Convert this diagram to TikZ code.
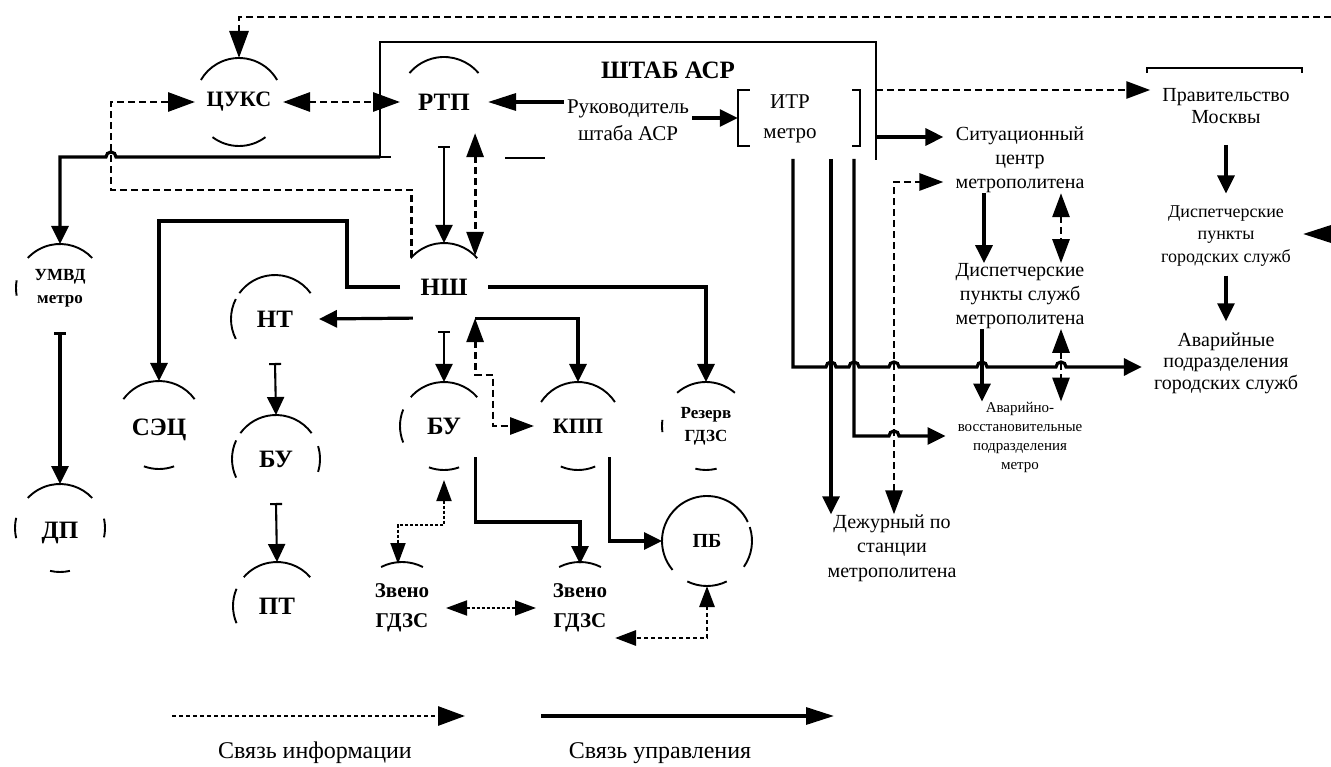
\documentclass[tikz,border=0pt]{standalone}
\usepackage{fontspec}
\setmainfont{Liberation Serif}
\usetikzlibrary{arrows.meta}
\newcommand\fsz[2]{\fontsize{#1}{#2}\selectfont}
\newcommand\nodearc[4]{\draw[arcl] (#1.center) ++(#2:#4) arc[start angle=#2,end angle=#3,radius=#4];}
\tikzset{
  Sa/.tip={Triangle[length=18pt,width=17pt]},
  Sl/.tip={Triangle[length=28pt,width=17pt]},
  Da/.tip={Triangle[length=24pt,width=17pt]},
  Dl/.tip={Triangle[length=27pt,width=19pt]},
  Fa/.tip={Triangle[length=21pt,width=15pt]},
  Bk/.tip={Bar[width=12pt]},
}
\begin{document}
\begin{tikzpicture}[x=1pt,y=1pt,
  circ/.style={circle,minimum size=88pt,inner sep=0pt,outer sep=0pt,align=center},
  big/.style={font=\bfseries\fsz{25}{28}},
  txt/.style={align=center,inner xsep=12pt,inner ysep=0pt},
  arcl/.style={line width=1.9pt},
  ctl/.style={line width=3.2pt},
  thn/.style={line width=2.1pt},
  frm/.style={line width=2.3pt},
  inf/.style={line width=2.9pt,dash pattern=on 7pt off 4pt},
  inff/.style={line width=1.9pt,dash pattern=on 3pt off 2pt},
]
\useasboundingbox (0,0) rectangle (1331,-767);

% circle nodes
\node[circ,font=\bfseries\fsz{22}{26}] (cuks) at (239,-102) {ЦУКС};
\node[circ,big] (rtp) at (444,-102) {РТП};
\node[circ,big] (nsh) at (444,-287) {НШ};
\node[circ,font=\bfseries\fsz{17}{23}] (umvd) at (60,-288) {УМВД\\метро};
\node[circ,big] (dp) at (60,-528) {\raisebox{-10pt}[0pt][0pt]{ДП}};
\node[circ,big] (sec) at (159,-425) {\raisebox{-10pt}[0pt][0pt]{СЭЦ}};
\node[circ,big] (nt) at (275,-319) {НТ};
\node[circ,big] (bul) at (276,-459) {БУ};
\node[circ,big] (ptn) at (277,-606) {ПТ};
\node[circ,big] (buc) at (444,-426) {БУ};
\node[circ,font=\bfseries\fsz{22}{26}] (kpp) at (578,-426) {КПП};
\node[circ,font=\bfseries\fsz{17}{23}] (rez) at (706,-426) {Резерв\\ГДЗС};
\node[circ,font=\bfseries\fsz{21}{30}] (zva) at (402,-608) {Звено\\ГДЗС};
\node[circ,font=\bfseries\fsz{21}{30}] (zvb) at (580,-608) {Звено\\ГДЗС};
\node[circ,font=\bfseries\fsz{20}{24},minimum size=90pt] (pb) at (707,-541) {ПБ};

% arcs of the circles
\nodearc{cuks}{30}{150}{44} \nodearc{cuks}{233}{307}{44}
\nodearc{rtp}{40}{140}{45}
\nodearc{nsh}{41}{139}{44}
\nodearc{umvd}{43}{137}{44} \nodearc{umvd}{170}{190}{44}
\nodearc{dp}{43}{137}{44} \nodearc{dp}{167}{193}{45} \nodearc{dp}{-12}{12}{45} \nodearc{dp}{257}{283}{44}
\nodearc{sec}{36}{144}{44} \nodearc{sec}{250}{290}{44}
\nodearc{nt}{36}{144}{44} \nodearc{nt}{153}{207}{44}
\nodearc{bul}{36}{144}{44} \nodearc{bul}{155}{205}{44} \nodearc{bul}{-17}{17}{44}
\nodearc{ptn}{41}{139}{44} \nodearc{ptn}{157}{203}{44}
\nodearc{buc}{41}{139}{44} \nodearc{buc}{158}{202}{44} \nodearc{buc}{250}{290}{44}
\nodearc{kpp}{33}{147}{44} \nodearc{kpp}{247}{293}{44}
\nodearc{rez}{49}{131}{44} \nodearc{rez}{172}{188}{44} \nodearc{rez}{256}{284}{44}
\nodearc{zva}{63}{117}{46} \nodearc{zvb}{63}{117}{46}
\nodearc{pb}{25}{220}{45} \nodearc{pb}{-35}{18}{45} \nodearc{pb}{244}{296}{45}

% text nodes
\node[font=\bfseries\fsz{25}{28},inner sep=0pt] (shtab) at (668,-70) {ШТАБ АСР};
\node[txt,inner xsep=3pt,font=\fsz{21}{27}] (ruk) at (628,-120) {Руководитель\\штаба АСР};
\node[minimum width=122pt,minimum height=55pt,inner sep=0pt] (itr) at (799,-118) {};
\node[txt,font=\fsz{21}{30}] (itrt) at (790,-119) {ИТР\\метро};
\node[txt,font=\fsz{20}{22}] (prav) at (1226,-106) {Правительство\\Москвы};
\node[txt,font=\fsz{20}{24}] (sit) at (1020,-160) {Ситуационный\\центр\\метрополитена};
\node[txt,font=\fsz{20}{24}] (dpm) at (1020,-296) {Диспетчерские\\пункты служб\\метрополитена};
\node[txt,font=\fsz{18}{22.5}] (dpg) at (1226,-236) {Диспетчерские\\пункты\\городских служб};
\node[txt,font=\fsz{20}{21.5}] (avg) at (1226,-363) {Аварийные\\подразделения\\городских служб};
\node[txt,font=\fsz{15}{19}] (avm) at (1020,-437) {Аварийно-\\восстановительные\\подразделения\\метро};
\node[txt,font=\fsz{20}{24.5}] (dez) at (892,-548) {Дежурный по\\станции\\метрополитена};
\node[txt,font=\fsz{24}{28}] (leg1) at (315,-753) {Связь информации};
\node[txt,font=\fsz{24}{28}] (leg2) at (660,-753) {Связь управления};

% frames
\coordinate (sbl) at (380,-157);
\draw[frm] (sbl) -- (380,-42) -- (876,-42) -- (876,-160);
\draw[frm] (sbl) -- (391,-157);
\draw[frm] (505,-158) -- (545,-158);
\draw[frm] (itr.north west) ++(12,0) -- (itr.north west) -- (itr.south west) -- ++(12,0);
\draw[frm] (itr.north east) ++(-8,0) -- (itr.north east) -- (itr.south east) -- ++(-8,0);
\draw[frm] (1147,-73) -- (1147,-68) -- (1302,-68) -- (1302,-73);

% top left connectors
\coordinate (topR) at (1331,-17);
\draw[inf,-Dl] (topR) -| (cuks.north);
\draw[inf,Dl-Dl] (cuks) -- (rtp);
\coordinate (lp) at (111,-190);
\draw[inf,-Dl] (nsh.137) |- (lp) |- (cuks.west);
\draw[ctl,-Sa] (sbl) -- (116,-157) arc[start angle=0,end angle=180,radius=5] -| (umvd.north);
\draw[ctl,Bk-Sa] (umvd.south) -- (dp.north);

% staff
\draw[ctl,-Sl] (ruk.west |- rtp.east) -- (rtp.east);
\draw[ctl,-Sa] (ruk.east |- itr.west) -- (itr.west);
\coordinate (sr1) at (876,-90);
\draw[inf,-Da] (sr1) -- (prav.west |- sr1);
\coordinate (sr2) at (876,-137);
\draw[ctl,-Sa] (sr2) -- (sit.west |- sr2);

% ITR lines
\coordinate (i1) at (793,-159);
\coordinate (i2) at (831,-159);
\coordinate (i3) at (854,-159);
\coordinate (h1) at (793,-367);
\coordinate (h3) at (854,-436);
\draw[ctl,-Sa] (i1) -- (h1) -- (826,-367) arc[start angle=180,end angle=0,radius=5]
  -- (849,-367) arc[start angle=180,end angle=0,radius=5]
  -- (889,-367) arc[start angle=180,end angle=0,radius=5]
  -- (977,-367) arc[start angle=180,end angle=0,radius=5]
  -- (1056,-367) arc[start angle=180,end angle=0,radius=5]
  -- (avg.west |- h1);
\draw[ctl,-Sa] (i2) -- (i2 |- dez.north);
\draw[ctl,-Sa] (i3) -- (h3) -- (889,-436) arc[start angle=180,end angle=0,radius=5] -- (avm.west |- h3);
\coordinate (d2) at (894,-182);
\draw[inf,Da-Da] (d2 |- dez.north) |- (sit.west |- d2);

% metro dispatch
\draw[ctl,-Sa] ([xshift=-36pt]sit.south) -- ([xshift=-36pt]dpm.north);
\draw[inf,Da-Da] ([xshift=41pt]sit.south) -- ([xshift=41pt]dpm.north);
\draw[ctl,-Sa] ([xshift=-38pt]dpm.south) -- ([xshift=-38pt]avm.north);
\draw[inf,Da-Da] ([xshift=41pt]dpm.south) -- ([xshift=41pt]avm.north);

% city
\draw[ctl,-Sa] ([yshift=-21pt]prav.south) -- ([yshift=12pt]dpg.north);
\draw[ctl,-Sa] ([yshift=-9pt]dpg.south) -- ([yshift=11pt]avg.north);
\coordinate (rE) at (1331,-234);
\draw[ctl,-Sl] (rE) -- (rE -| dpg.east);

% centre
\draw[thn,Bk-Sa] (rtp.south) -- (nsh.north);
\draw[inf,Da-Da] (rtp.-45) -- (nsh.45);
\coordinate (c1) at (347,-221);
\draw[ctl,-Sa] (nsh.west) -| (c1) -| (sec.north);
\draw[ctl,-Sa] (nsh.-135) -- (nt.east);
\draw[ctl,-Sa] (nsh.east) -| (rez.north);
\draw[ctl,-Sa] (nsh.-45) -| (kpp.north);
\draw[thn,Bk-Sa] (nsh.south) -- (buc.north);
\coordinate (k1) at (493,-375);
\draw[inf,Da-Da] (nsh.-45) |- (k1) |- (kpp.west);
\draw[thn,Bk-Sa] (nt.south) -- (bul.north);
\draw[thn,Bk-Sa] (bul.south) -- (ptn.north);

\coordinate (z1) at (398,-525);
\draw[inff,Fa-Fa] ([yshift=-10pt]buc.south) |- (z1) -- (z1 |- zva.north);
\coordinate (z2) at (580,-522);
\draw[ctl,-Sa] (buc.-45) |- (z2) -- (zvb.north);
\draw[ctl,-Sa] (kpp.-45) |- (pb.west);
\draw[inff,Fa-Fa] (zva.east) -- (zvb.west);
\coordinate (z3) at (615,-638);
\draw[inf,dash pattern=on 4pt off 3pt,Fa-Fa] (pb.south) |- (z3);

% legend
\coordinate (la) at (172,-716);
\coordinate (lb) at (465,-716);
\coordinate (lc) at (541,-716);
\coordinate (ld) at (834,-716);
\draw[inf,dash pattern=on 4pt off 3pt,-Dl] (la) -- (lb);
\draw[ctl,-Sl] (lc) -- (ld);
\end{tikzpicture}
\end{document}
